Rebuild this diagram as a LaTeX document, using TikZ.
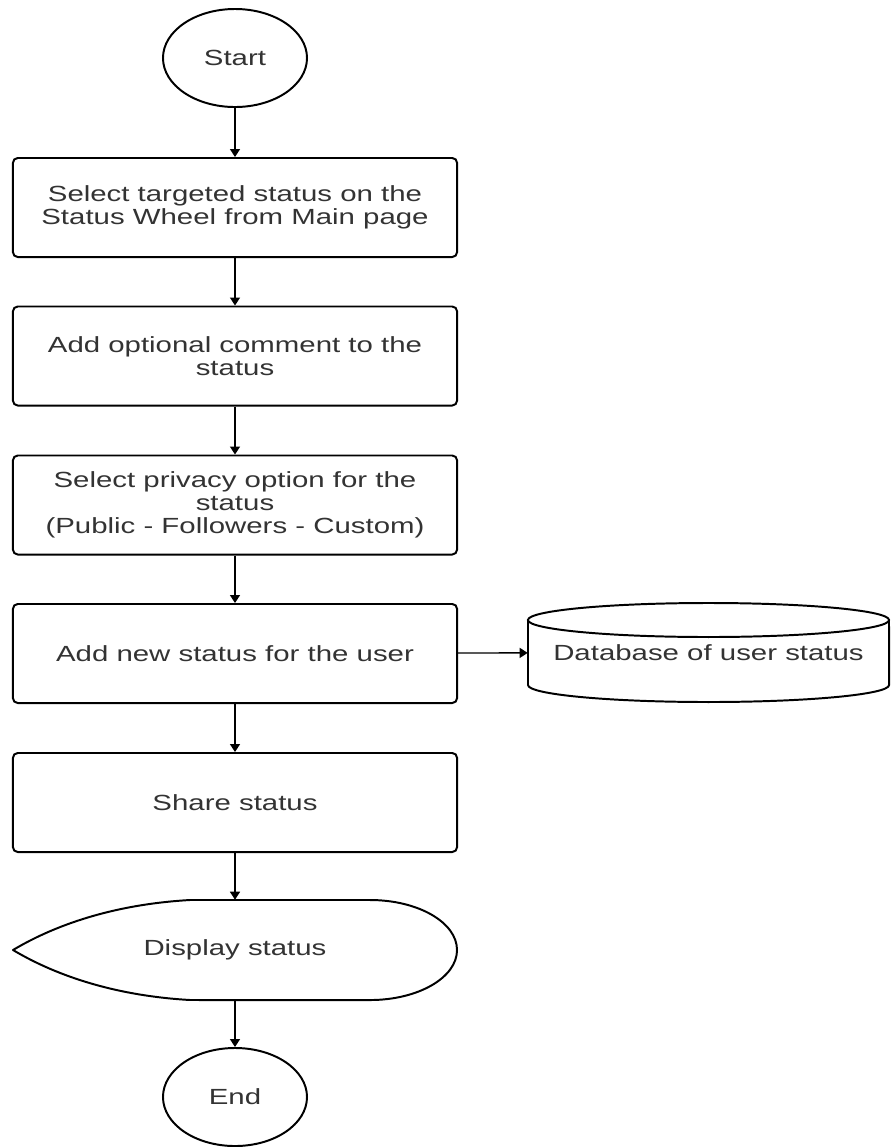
\documentclass[tikz,border=0pt]{standalone}
\usepackage{fontspec}
\setmainfont{Liberation Sans}[FakeStretch=1.34]
\usepackage{tikz}
\usetikzlibrary{shapes.geometric,arrows.meta}

\begin{document}
\begin{tikzpicture}[x=0.025cm,y=-0.025cm,
   lbl/.style={text=black!80,font=\fontsize{15.6}{16.4}\selectfont,align=center},
   term/.style={lbl,ellipse,draw,line width=1.4pt,inner sep=0pt,
    minimum width=3.6cm,minimum height=2.45cm},
   stepbox/.style={lbl,rectangle,draw,rounded corners=0.12cm,line width=1.4pt,
    minimum width=11.1cm,minimum height=2.475cm,inner sep=+0.1cm},
   flat/.style={lbl,rectangle,inner sep=0pt},
   arr/.style={-{Triangle[length=0.2cm,width=0.25cm]},line width=1pt}
    ]
  \useasboundingbox (0,0) rectangle (890,1147);

  % -- main column
  \node[term] at (235,58) (start) {Start};
  \node[stepbox] at (235,207.5) (s1) {Select targeted status on the\\Status Wheel from Main page};
  \node[stepbox] at (235,356) (s2) {Add optional comment to the\\status};
  \node[stepbox] at (235,505) (s3) {Select privacy option for the\\status\\(Public - Followers - Custom)};
  \node[stepbox] at (235,653.5) (s4) {Add new status for the user};
  \node[stepbox] at (235,802.5) (s5) {Share status};
  \node[flat,minimum width=11.1cm,minimum height=2.5cm] at (235,950) (disp) {Display status};
  \node[term] at (235,1097) (end) {End};

  % -- database
  \node[flat,minimum width=9.025cm,minimum height=2.475cm] at (708.5,652.5) (db) {Database of user status};

  % -- display outline
  \draw[line width=1.4pt,line join=round]
    (190,900) -- (370,900)
    arc[start angle=90,end angle=-90,x radius=2.175cm,y radius=1.25cm]
    -- (190,1000) .. controls (120,996) and (60,978) .. (13,950)
    .. controls (60,922) and (120,904) .. (190,900) -- cycle;

  % -- cylinder outline
  \draw[line width=1.4pt]
    (708.5,620) ellipse[x radius=4.5125cm,y radius=0.425cm];
  \draw[line width=1.4pt]
    (528,620) -- (528,685)
    arc[start angle=180,end angle=360,x radius=4.5125cm,y radius=0.425cm]
    -- (889,620);

  % -- arrows
  \draw[arr] (start) -- (s1);
  \draw[arr] (s1) -- (s2);
  \draw[arr] (s2) -- (s3);
  \draw[arr] (s3) -- (s4);
  \draw[arr] (s4) -- (s5);
  \draw[arr] (s5) -- (disp);
  \draw[arr] (disp) -- (end);
  \draw[arr] (s4) -- (db);
\end{tikzpicture}
\end{document}
